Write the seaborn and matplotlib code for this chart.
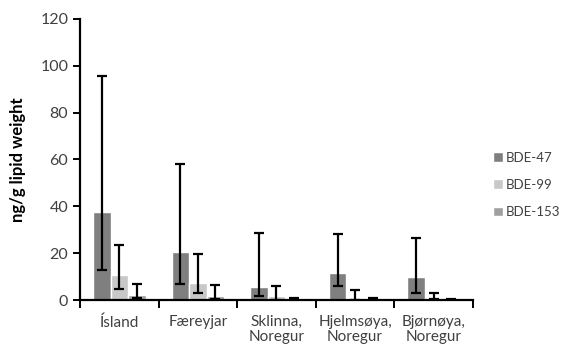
import pandas as pd
import matplotlib.pyplot as plt
import seaborn as sns
import numpy as np

# Data
sites = ['Ísland', 'Færeyjar', 'Sklinna,\nNoregur', 'Hjelmsøya,\nNoregur', 'Bjørnøya,\nNoregur']
congeners = ['BDE-47', 'BDE-99', 'BDE-153']

bde47 = [37.8, 20.6, 5.6, 11.6, 9.8]
bde99 = [10.8, 7.2, 1.6, 1.1, 1.1]
bde153 = [2.2, 1.6, 0.6, 0.5, 0.3]

# error bar ends (lower, upper)
bde47_lo = [12.8, 6.8, 1.7, 6.1, 2.9]
bde47_hi = [95.8, 58.0, 28.5, 28.0, 26.5]
bde99_lo = [4.6, 2.9, 0.2, 0.1, 0.3]
bde99_hi = [23.5, 19.6, 6.1, 4.3, 3.1]
bde153_lo = [1.0, 0.3, 0.3, 0.3, 0.1]
bde153_hi = [6.8, 6.4, 1.0, 0.7, 0.5]

df = pd.DataFrame({
    'site': sites * 3,
    'congener': np.repeat(congeners, len(sites)),
    'value': bde47 + bde99 + bde153,
})
lows = [bde47_lo, bde99_lo, bde153_lo]
highs = [bde47_hi, bde99_hi, bde153_hi]
vals = [bde47, bde99, bde153]

sns.set_theme(style="white")
plt.rcParams['font.family'] = ['Lato', 'DejaVu Sans']
text_col = '#404040'

fig = plt.figure(figsize=(5.65, 3.56), dpi=100)
ax = fig.add_axes([0.1416, 0.157, 0.6955, 0.79])

palette = ['#7f7f7f', '#c8c8c8', '#a0a0a0']
sns.barplot(data=df, x='site', y='value', hue='congener', order=sites,
            hue_order=congeners, palette=palette, width=0.67, errorbar=None,
            saturation=1, ax=ax, legend=True)

# asymmetric error bars
for cont, v, lo, hi in zip(ax.containers, vals, lows, highs):
    xs = [b.get_x() + b.get_width() / 2 for b in cont]
    v = np.array(v)
    yerr = [v - np.array(lo), np.array(hi) - v]
    ax.errorbar(xs, v, yerr=yerr, fmt='none', ecolor='black', elinewidth=1.6,
                capsize=3.5, capthick=1.6, zorder=5)

ax.set_ylim(0, 120)
ax.set_xlim(-0.5, 4.5)
ax.set_yticks(range(0, 121, 20))
ax.set_xlabel('')
ax.set_ylabel('ng/g lipid weight', fontsize=12, fontweight='bold', color='black', labelpad=10)

sns.despine(ax=ax)
for s in ['left', 'bottom']:
    ax.spines[s].set_color('black')
    ax.spines[s].set_linewidth(1.6)

ax.set_xticks(np.arange(-0.5, 5, 1), minor=True)
ax.tick_params(axis='x', which='major', length=0, labelsize=11, labelcolor=text_col, pad=11)
ax.tick_params(axis='x', which='minor', length=6, width=1.4, color='black', direction='out', bottom=True)
ax.tick_params(axis='y', length=5, width=1.4, color='black', direction='out', left=True,
               labelsize=11.5, labelcolor=text_col)
for t in ax.get_xticklabels():
    t.set_linespacing(1.05)

leg = ax.legend(loc='center left', bbox_to_anchor=(1.05, 0.41), frameon=False,
                fontsize=9.5, handlelength=0.75, handleheight=0.75, labelspacing=1.15,
                handletextpad=0.25, borderpad=0, borderaxespad=0)
for t in leg.get_texts():
    t.set_color(text_col)

plt.savefig('out.png', dpi=100)
plt.close()
